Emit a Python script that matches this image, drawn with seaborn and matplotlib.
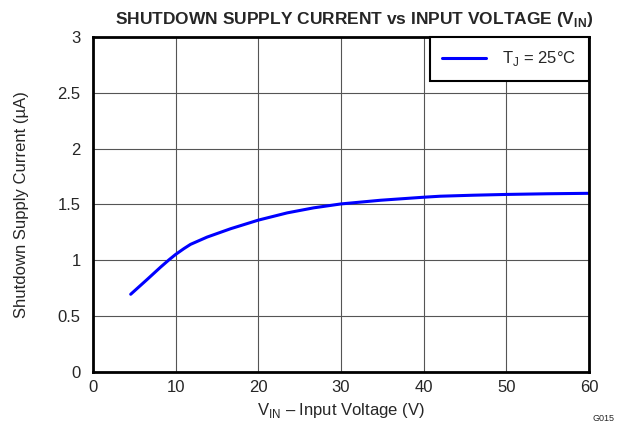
import matplotlib
matplotlib.use('Agg')
import matplotlib.pyplot as plt
import seaborn as sns
import pandas as pd

# values
vin = [4.56, 6.57, 8.19, 9.2, 10, 11.0, 11.8, 13.8, 16.65, 20, 23.5, 26.7, 30, 34.8, 40, 42, 46, 50, 55, 60]
current = [0.696, 0.83, 0.94, 1.005, 1.053, 1.105, 1.143, 1.208, 1.283, 1.36, 1.425, 1.47, 1.505,
           1.538, 1.565, 1.574, 1.583, 1.59, 1.596, 1.60]
series_label = r'T$_\mathregular{J}$ = 25°C'
x_ticks = [0, 10, 20, 30, 40, 50, 60]
y_ticks = [0, 0.5, 1, 1.5, 2, 2.5, 3]
y_tick_labels = ['0', '0.5', '1', '1.5', '2', '2.5', '3']

sns.set_style('white')
plt.rcParams['font.family'] = ['Liberation Sans', 'DejaVu Sans']
plt.rcParams['mathtext.fontset'] = 'custom'
plt.rcParams['mathtext.rm'] = 'Liberation Sans'
plt.rcParams['mathtext.bf'] = 'Liberation Sans:bold'

df = pd.DataFrame({'VIN': vin, 'Current': current, 'Series': series_label})

fig = plt.figure(figsize=(6.34, 4.29), dpi=100)
ax = fig.add_axes([0.1467, 0.1329, 0.7823, 0.7809])

sns.lineplot(data=df, x='VIN', y='Current', hue='Series', palette=['#0000ff'],
             linewidth=2.2, ax=ax)

ax.set_xlim(0, 60)
ax.set_ylim(0, 3)
ax.set_xticks(x_ticks)
ax.set_yticks(y_ticks)
ax.set_yticklabels(y_tick_labels)
ax.tick_params(axis='y', labelsize=12, length=0, pad=9)
ax.tick_params(axis='x', labelsize=12, length=0, pad=6)
ax.grid(True, color='#555555', linewidth=0.8)
for s in ax.spines.values():
    s.set_color('black')
    s.set_linewidth(2)

ax.set_xlabel(r'V$_\mathregular{IN}$ – Input Voltage (V)', fontsize=12, labelpad=4)
ax.set_ylabel('Shutdown Supply Current (µA)', fontsize=12)
ax.yaxis.set_label_coords(-0.13, 0.5)
ax.set_title(r'SHUTDOWN SUPPLY CURRENT vs INPUT VOLTAGE (V$_\mathbf{IN}$)',
             fontsize=12.5, fontweight='bold', pad=9, x=0.527)

leg = ax.legend(loc='upper right', fontsize=12, frameon=True, fancybox=False,
                borderaxespad=0, handlelength=2.6, handletextpad=1.0,
                borderpad=0.75)
leg.get_frame().set_edgecolor('black')
leg.get_frame().set_linewidth(1.5)
leg.get_frame().set_alpha(1)

fig.text(0.97, 0.015, 'G015', fontsize=6.5, ha='right', va='bottom')

fig.savefig('out.png', dpi=100)
